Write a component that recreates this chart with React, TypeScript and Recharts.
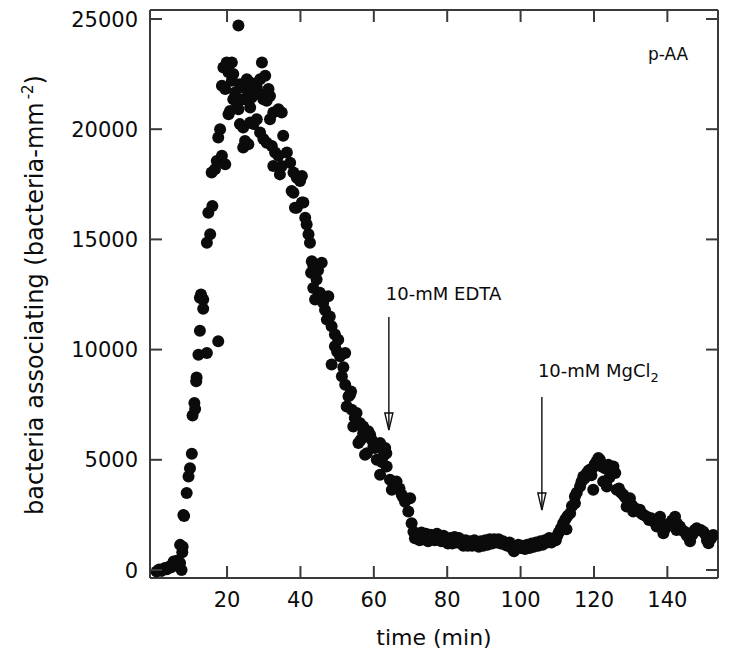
import React from 'react';
import { ScatterChart, Scatter, XAxis, YAxis, ReferenceLine, ReferenceDot } from 'recharts';

// Bacteria associating with p-AA surface over time, EDTA then MgCl2 added.

// initial adhesion, 0-18 min
const adhesionTime = [0.8, 1.5, 2.2, 2.8, 3.1, 3.6, 4.2, 4.8, 5.4, 5.9,
  6.3, 6.8, 7.2, 7.2, 7.6, 7.8, 7.9, 8.1, 8.3, 9.0,
  9.5, 9.9, 10.4, 10.6, 11.1, 11.3, 11.6, 11.7, 12.2, 12.6,
  12.6, 12.9, 13.5, 13.5, 14.5, 17.6];
const adhesionCount = [-70, 20, -40, 60, 90, 30, 150, 120, 380, 250,
  420, 300, 320, 1140, 0, 800, 1050, 2500, 2450, 3490,
  4240, 4620, 5270, 7010, 7580, 7300, 8560, 8730, 9770, 10860,
  12350, 12500, 12270, 11850, 9850, 10380];

// peak, 14-43 min
const peakTime = [14.5, 14.9, 15.4, 15.8, 16.0, 16.7, 17.2, 17.6, 18.1, 18.6,
  18.6, 19.0, 19.5, 19.5, 19.9, 20.4, 20.4, 20.8, 21.3, 21.3,
  21.7, 21.7, 22.2, 22.6, 23.1, 23.1, 23.5, 23.5, 24.4, 24.4,
  24.4, 24.4, 24.9, 25.4, 25.4, 25.8, 25.8, 26.3, 26.3, 26.3,
  26.7, 27.2, 28.1, 28.1, 29.0, 29.0, 29.0, 29.5, 29.9, 29.9,
  30.4, 30.8, 30.8, 31.3, 31.7, 31.7, 32.2, 32.6, 32.6, 33.1,
  34.0, 34.0, 34.4, 34.9, 34.9, 35.3, 36.3, 37.2, 37.6, 38.1,
  38.1, 38.5, 39.0, 39.0, 39.9, 40.4, 40.4, 40.8, 41.3, 41.7,
  42.2, 42.6];
const peakCount = [14850, 16210, 15230, 18030, 16510, 18180, 18560, 19620, 20000, 18790,
  21970, 22800, 18410, 21820, 23030, 20680, 22580, 20830, 23030, 22200,
  22500, 21360, 21670, 21210, 24700, 20910, 22040, 20230, 21890, 21360,
  20080, 19170, 19470, 22270, 21360, 21670, 19320, 22120, 20980, 20300,
  21440, 20230, 20450, 21890, 22270, 21590, 19850, 23030, 21360, 19550,
  22420, 21290, 19390, 21820, 21510, 20450, 19240, 20760, 18330, 18940,
  20910, 18790, 17950, 20760, 18330, 19700, 18940, 18480, 17200, 18030,
  17120, 16440, 17800, 16440, 17650, 17880, 16670, 16670, 15980, 15680,
  15230, 14850];

// detachment, 43-72 min
const declineTime = [42.9, 43.1, 43.5, 43.5, 44.0, 44.4, 44.8, 45.3, 45.8, 46.2,
  46.7, 47.2, 47.6, 48.0, 48.5, 48.5, 49.4, 49.4, 50.0, 50.3,
  50.8, 51.3, 51.7, 52.2, 52.2, 52.6, 53.1, 53.5, 53.8, 54.0,
  54.4, 54.8, 55.3, 55.8, 56.2, 56.4, 57.1, 57.1, 57.6, 58.1,
  58.5, 59.0, 59.4, 59.9, 60.3, 60.8, 61.7, 61.7, 62.2, 62.7,
  63.1, 63.4, 63.5, 64.4, 64.9, 65.5, 66.2, 67.0, 67.6, 68.0,
  68.5, 69.4, 69.9, 70.3, 70.8, 71.2];
const declineCount = [13490, 14010, 13800, 12800, 12270, 13180, 13600, 12580, 13940, 12120,
  11800, 11360, 12420, 11500, 11060, 9320, 10680, 10150, 9900, 10450,
  9700, 8790, 9200, 9850, 8410, 7420, 7880, 7950, 8100, 7270,
  6510, 6900, 7120, 5760, 6670, 5900, 6210, 6510, 5230, 5300,
  6290, 6140, 5910, 5600, 5530, 5000, 5760, 4320, 4900, 5200,
  5530, 5300, 4700, 4090, 3640, 3800, 4010, 3700, 3410, 3300,
  3100, 2650, 3260, 2120, 1740, 1440];

// plateau after EDTA, 72-109 min
const plateauTime = [72.0, 72.5, 73.0, 73.6, 74.2, 74.8, 75.4, 76.0, 76.6, 77.2,
  77.8, 78.4, 79.0, 79.6, 80.2, 80.8, 81.4, 82.0, 82.6, 83.2,
  83.8, 84.4, 85.0, 85.6, 86.2, 86.8, 87.4, 88.0, 88.6, 89.2,
  89.8, 90.4, 91.0, 91.6, 92.2, 92.8, 93.4, 94.0, 94.6, 95.2,
  95.8, 96.4, 97.0, 97.6, 98.2, 98.8, 99.4, 100.0, 100.6, 101.2,
  101.8, 102.4, 103.0, 103.6, 104.2, 104.8, 105.4, 106.0, 106.6, 107.2,
  107.8, 108.4, 109.0];
const plateauCount = [1600, 1350, 1700, 1400, 1650, 1300, 1600, 1450, 1350, 1650,
  1450, 1300, 1550, 1400, 1200, 1450, 1200, 1500, 1250, 1450,
  1200, 1100, 1350, 1100, 1300, 1100, 1350, 1150, 1050, 1300,
  1100, 1350, 1150, 1400, 1200, 1400, 1250, 1400, 1200, 1300,
  1150, 1100, 1250, 1000, 850, 1000, 1150, 1000, 1100, 950,
  1150, 1000, 1200, 1050, 1250, 1100, 1300, 1150, 1350, 1250,
  1450, 1250, 1400];

// response to MgCl2, 109-153 min
const mgTime = [109.6, 110.0, 110.4, 111.0, 111.6, 112.2, 112.5, 112.8, 113.5, 114.0,
  114.8, 114.8, 115.3, 116.2, 116.6, 117.1, 117.4, 118.0, 118.5, 118.9,
  119.3, 119.5, 119.8, 120.2, 120.7, 121.2, 121.6, 122.1, 122.5, 123.0,
  123.5, 123.9, 124.2, 125.0, 125.3, 125.8, 126.2, 126.8, 127.4, 128.0,
  128.5, 128.9, 129.4, 129.8, 130.3, 130.7, 131.2, 131.7, 132.5, 133.0,
  133.6, 134.4, 135.0, 135.6, 136.2, 136.8, 137.1, 137.7, 138.0, 138.5,
  138.9, 139.5, 140.1, 140.7, 141.3, 142.1, 142.5, 142.7, 143.4, 144.0,
  144.6, 145.2, 145.7, 146.2, 146.8, 147.4, 148.0, 148.6, 149.1, 149.8,
  150.4, 150.8, 151.2, 151.2, 152.0, 152.5];
const mgCount = [1350, 1550, 1700, 1900, 2120, 2300, 1850, 2450, 2580, 2900,
  3330, 3030, 3500, 3790, 4000, 4240, 4150, 4390, 4500, 4550,
  4300, 4600, 3640, 4800, 4920, 5080, 5000, 4700, 4010, 4620,
  3790, 4770, 4200, 4550, 4700, 4400, 3640, 3700, 3500, 3410,
  3300, 2880, 3200, 3260, 2950, 2650, 2800, 2700, 2730, 2550,
  2500, 2420, 2270, 2350, 2270, 2100, 1970, 2050, 2420, 2100,
  1670, 1900, 2000, 2120, 2250, 2420, 1820, 2100, 1970, 1800,
  1750, 1590, 1500, 1300, 1600, 1800, 1890, 1800, 1820, 1740,
  1600, 1350, 1510, 1210, 1450, 1590];

const xTicks = [20, 40, 60, 80, 100, 120, 140];
const yTicks = [0, 5000, 10000, 15000, 20000, 25000];

const X_DOMAIN: [number, number] = [-1, 153.8];
const Y_DOMAIN: [number, number] = [-363, 25408];

const FONT = '"DejaVu Sans", Verdana, sans-serif';
const INK = '#0b0b0b';
const AXIS = '#3a3a3a';
const TICK_LEN = 12;

const zip = (ts: number[], ns: number[]) => ts.map((t, i) => ({ t, n: ns[i] }));
const data = [
  ...zip(adhesionTime, adhesionCount),
  ...zip(peakTime, peakCount),
  ...zip(declineTime, declineCount),
  ...zip(plateauTime, plateauCount),
  ...zip(mgTime, mgCount),
];

const Dot = (p: any) => <circle cx={p.cx} cy={p.cy} r={6} fill={INK} />;

// inward tick marks; labels only on bottom and left
const BottomTick = (p: any) => (
  <g>
    <line x1={p.x} y1={p.y} x2={p.x} y2={p.y - TICK_LEN} stroke={AXIS} strokeWidth={2} />
    <text x={p.x} y={p.y + 14} dy="0.72em" textAnchor="middle" fontSize={21} fontFamily={FONT} fill={INK}>
      {p.payload.value}
    </text>
  </g>
);
const LeftTick = (p: any) => (
  <g>
    <line x1={p.x} y1={p.y} x2={p.x + TICK_LEN} y2={p.y} stroke={AXIS} strokeWidth={2} />
    <text x={p.x - 12} y={p.y} dy="0.36em" textAnchor="end" fontSize={21} fontFamily={FONT} fill={INK}>
      {p.payload.value}
    </text>
  </g>
);
const TopTick = (p: any) => (
  <line x1={p.x} y1={p.y} x2={p.x} y2={p.y + TICK_LEN} stroke={AXIS} strokeWidth={2} />
);
const RightTick = (p: any) => (
  <line x1={p.x} y1={p.y} x2={p.x - TICK_LEN} y2={p.y} stroke={AXIS} strokeWidth={2} />
);

// vertical arrow with its caption above
const arrowShape = (caption: React.ReactNode, dxText: number, dyText: number) => (p: any) => {
  const x = p.x1;
  const top = Math.min(p.y1, p.y2);
  const tip = Math.max(p.y1, p.y2);
  return (
    <g>
      <line x1={x} y1={top} x2={x} y2={tip} stroke={INK} strokeWidth={1.4} />
      <path d={`M${x - 4},${tip - 17} L${x + 4},${tip - 17} L${x},${tip} Z`} fill="none" stroke={INK} strokeWidth={1.4} />
      <text x={x + dxText} y={top + dyText} fontSize={18} fontFamily={FONT} fill={INK}>{caption}</text>
    </g>
  );
};

const YTitle = (props: any) => {
  const vb = props.viewBox;
  const cx = vb.x + 43;
  const cy = vb.y + vb.height / 2 + 1;
  return (
    <text x={cx} y={cy} transform={`rotate(-90, ${cx}, ${cy})`} textAnchor="middle"
      fontSize={24} fontFamily={FONT} fill={INK}>
      bacteria associating (bacteria-mm<tspan dx={3} dy={-10} fontSize={15}>-2</tspan><tspan dy={10}>)</tspan>
    </text>
  );
};

const lineStyle = { stroke: AXIS, strokeWidth: 2 };

export default function App() {
  return (
    <div style={{ position: 'absolute', left: 0, top: 0, background: '#fff' }}>
      <ScatterChart width={725} height={655} margin={{ top: 9, right: 6, bottom: 0, left: 0 }}>
        <XAxis xAxisId={0} type="number" dataKey="t" domain={X_DOMAIN} allowDataOverflow ticks={xTicks}
          orientation="bottom" height={77} tickSize={0} tickMargin={0} tick={<BottomTick />}
          axisLine={lineStyle} tickLine={false}
          label={{ value: 'time (min)', position: 'insideBottom', offset: 10, fontSize: 22, fill: INK, fontFamily: FONT }} />
        <XAxis xAxisId="top" type="number" dataKey="t" domain={X_DOMAIN} allowDataOverflow ticks={xTicks}
          orientation="top" height={1} tickSize={0} tickMargin={0} tick={<TopTick />}
          axisLine={lineStyle} tickLine={false} />
        <YAxis yAxisId={0} type="number" dataKey="n" domain={Y_DOMAIN} allowDataOverflow ticks={yTicks}
          width={150} tickSize={0} tickMargin={0} tick={<LeftTick />}
          axisLine={lineStyle} tickLine={false} label={<YTitle />} />
        <YAxis yAxisId="right" orientation="right" type="number" dataKey="n" domain={Y_DOMAIN} allowDataOverflow
          ticks={yTicks} width={1} tickSize={0} tickMargin={0} tick={<RightTick />}
          axisLine={lineStyle} tickLine={false} />
        <Scatter data={data} fill={INK} shape={Dot} isAnimationActive={false} />
        <Scatter data={[]} xAxisId="top" yAxisId="right" isAnimationActive={false} />
        <ReferenceLine segment={[{ x: 64.1, y: 11480 }, { x: 64.1, y: 6350 }]}
          shape={arrowShape('10-mM EDTA', -3, -17)} />
        <ReferenceLine segment={[{ x: 105.8, y: 7850 }, { x: 105.8, y: 2720 }]}
          shape={arrowShape(<>10-mM MgCl<tspan dy={5} fontSize={13}>2</tspan></>, -4, -20)} />
        <ReferenceDot x={145.7} y={23160} r={0}
          shape={(p: any) => <text x={p.cx} y={p.cy} textAnchor="end" fontSize={17} fontFamily={FONT} fill={INK}>p-AA</text>} />
      </ScatterChart>
    </div>
  );
}
